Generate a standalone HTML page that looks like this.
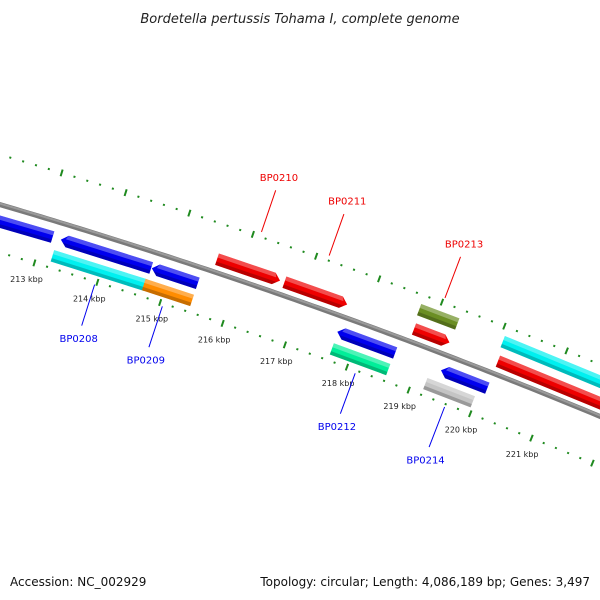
<!DOCTYPE html>
<html><head><meta charset="utf-8">
<style>
html,body{margin:0;padding:0;background:#fff;}
svg{display:block;font-family:"DejaVu Sans","Liberation Sans",sans-serif;}
</style></head>
<body>
<svg id="map" width="600" height="600" viewBox="0 0 600 600" xmlns="http://www.w3.org/2000/svg">
<rect width="600" height="600" fill="#fff"/>
<text x="300" y="23" text-anchor="middle" font-size="13" font-style="italic" fill="#222">Bordetella pertussis Tohama I, complete genome</text>
<g id="plot"></g>
<text x="10" y="586" font-size="12" fill="#111">Accession: NC_002929</text>
<text x="590" y="586" text-anchor="end" font-size="12" fill="#111">Topology: circular; Length: 4,086,189 bp; Genes: 3,497</text>
</svg>
<script>
// ---- data ----
const featureNames = ["", "BP0208", "", "BP0208", "BP0209", "BP0210", "BP0211", "", "BP0212", "BP0213", "", "", "BP0214", "", ""];
const featureStart = [211.0, 213.28, 214.72, 213.23, 214.68, 215.61, 216.68, 217.68, 217.69, 218.72, 218.75, 219.35, 219.2, 220.06, 220.1];
const featureEnd   = [213.15, 214.71, 215.45, 214.71, 215.45, 216.61, 217.68, 218.61, 218.60, 219.33, 219.32, 220.1, 219.97, 223.0, 223.0];
const featureStrand = [-1, -1, -1, 0, 0, 1, 1, -1, 0, 0, 1, -1, 0, 0, 1];
const featureRing = ["rev", "rev", "rev", "low", "low", "fwd", "fwd", "rev", "low", "high", "fwd", "rev", "low", "high", "fwd"];
const featureColor = ["#0000ee", "#0000ee", "#0000ee", "#00f0f0", "#ff8c00", "#ee0000", "#ee0000", "#0000ee", "#00ee99", "#6b8e23", "#ee0000", "#0000ee", "#c4c4c4", "#00f0f0", "#ee0000"];
const labelSide = [0, -1, 0, 0, -1, 1, 1, 0, -1, 1, 0, 0, -1, 0, 0];
const labelMid = [0, 213.97, 0, 0, 215.05, 216.11, 217.18, 0, 218.15, 219.02, 0, 0, 219.6, 0, 0];
const tickKbp = [210, 211, 212, 213, 214, 215, 216, 217, 218, 219, 220, 221, 222, 223, 224];
const tickLabels = ["", "", "", "213 kbp","214 kbp","215 kbp","216 kbp","217 kbp","218 kbp","219 kbp","220 kbp","221 kbp","", "", ""];

// ---- axis functions ----
const CX = -1661, CY = 5866;
const RADII = {backbone: 5900, fwd: 5913, high: 5933, rev: 5884, low: 5866, tickUp: 5948, tickLow: 5854};
function phi(k) { return (17.48 + 0.645 * (k - 214)) * Math.PI / 180; }
function pt(k, r) { const a = phi(k); return [CX + r * Math.sin(a), CY - r * Math.cos(a)]; }
function P(k, r) { const p = pt(k, r); return p[0].toFixed(2) + "," + p[1].toFixed(2); }

const NS = "http://www.w3.org/2000/svg";
const plot = document.getElementById("plot");
function mk(tag, attrs, parent) {
  const e = document.createElementNS(NS, tag);
  for (const k in attrs) e.setAttribute(k, attrs[k]);
  (parent || plot).appendChild(e);
  return e;
}

// tick tracks
const GREEN = "#1f8a1f";
for (let t = 0; t < tickKbp.length; t++) {
  for (let m = 0; m < 5; m++) {
    const k = tickKbp[t] + m * 0.2;
    [RADII.tickUp, RADII.tickLow].forEach(function (r) {
      const len = m === 0 ? 3.5 : 1;
      const a = pt(k, r - len), b = pt(k, r + len);
      const ln = mk("line", {x1: a[0], y1: a[1], x2: b[0], y2: b[1], stroke: GREEN, "stroke-width": 2});
      
      
    });
  }
  if (tickLabels[t]) {
    const lp = pt(tickKbp[t], RADII.tickLow - 17);
    const tx = mk("text", {x: lp[0] - 3, y: lp[1] + 3, "text-anchor": "middle", "font-size": "8", fill: "#222"});
    tx.textContent = tickLabels[t];
    
    
  }
}

// backbone
let d = "";
for (let k = 209; k <= 225; k += 0.1) d += (d ? "L" : "M") + P(k, RADII.backbone);
const bb1 = mk("path", {d: d, fill: "none", stroke: "#7a7a7a", "stroke-width": 5});


const bb2 = mk("path", {d: d, fill: "none", stroke: "#9a9a9a", "stroke-width": 2, transform: "translate(0,-1)"});



// features
const HW = 6, HEAD = 0.1;
for (let i = 0; i < featureStart.length; i++) {
  const r = RADII[featureRing[i]];
  const s = featureStart[i], e = featureEnd[i], st = featureStrand[i];
  const ro = r + HW, ri = r - HW;
  let pts;
  if (st === 1) pts = [P(s, ro), P(e - HEAD, ro), P(e, r), P(e - HEAD, ri), P(s, ri)];
  else if (st === -1) pts = [P(s, r), P(s + HEAD, ro), P(e, ro), P(e, ri), P(s + HEAD, ri)];
  else pts = [P(s, ro), P(e, ro), P(e, ri), P(s, ri)];
  const g = mk("g", {});
  
  
  mk("polygon", {points: pts.join(" "), fill: featureColor[i]}, g);
  let top;
  if (st === 1) top = [P(s, ro), P(e - HEAD, ro), P(e - HEAD * 0.7, r + HW * 0.3), P(s, r + HW * 0.3)];
  else if (st === -1) top = [P(s + HEAD * 0.7, r + HW * 0.3), P(s + HEAD, ro), P(e, ro), P(e, r + HW * 0.3)];
  else top = [P(s, ro), P(e, ro), P(e, r + HW * 0.3), P(s, r + HW * 0.3)];
  mk("polygon", {points: top.join(" "), fill: "#fff", "fill-opacity": 0.3}, g);
  let bot;
  if (st === 1) bot = [P(s, r - HW * 0.4), P(e - HEAD * 0.4, r - HW * 0.4), P(e - HEAD, ri), P(s, ri)];
  else if (st === -1) bot = [P(s + HEAD * 0.4, r - HW * 0.4), P(e, r - HW * 0.4), P(e, ri), P(s + HEAD, ri)];
  else bot = [P(s, r - HW * 0.4), P(e, r - HW * 0.4), P(e, ri), P(s, ri)];
  mk("polygon", {points: bot.join(" "), fill: "#000", "fill-opacity": 0.22}, g);

  if (labelSide[i] !== 0) {
    const m = labelMid[i], up = labelSide[i] === 1;
    const col = up ? "#ee0000" : "#0000ee";
    const a = pt(m, up ? 5953 : 5851), b = pt(m, up ? 5997 : 5808);
    const ln = mk("line", {x1: a[0], y1: a[1], x2: b[0], y2: b[1], stroke: col, "stroke-width": 1});
    
    
    const tp = pt(m, up ? 6007 : 5798);
    const tx = mk("text", {x: tp[0], y: tp[1] + (up ? 0 : 7), "text-anchor": "middle", "font-size": "10", fill: col});
    tx.textContent = featureNames[i];
    
    
  }
}
</script>
</body></html>
